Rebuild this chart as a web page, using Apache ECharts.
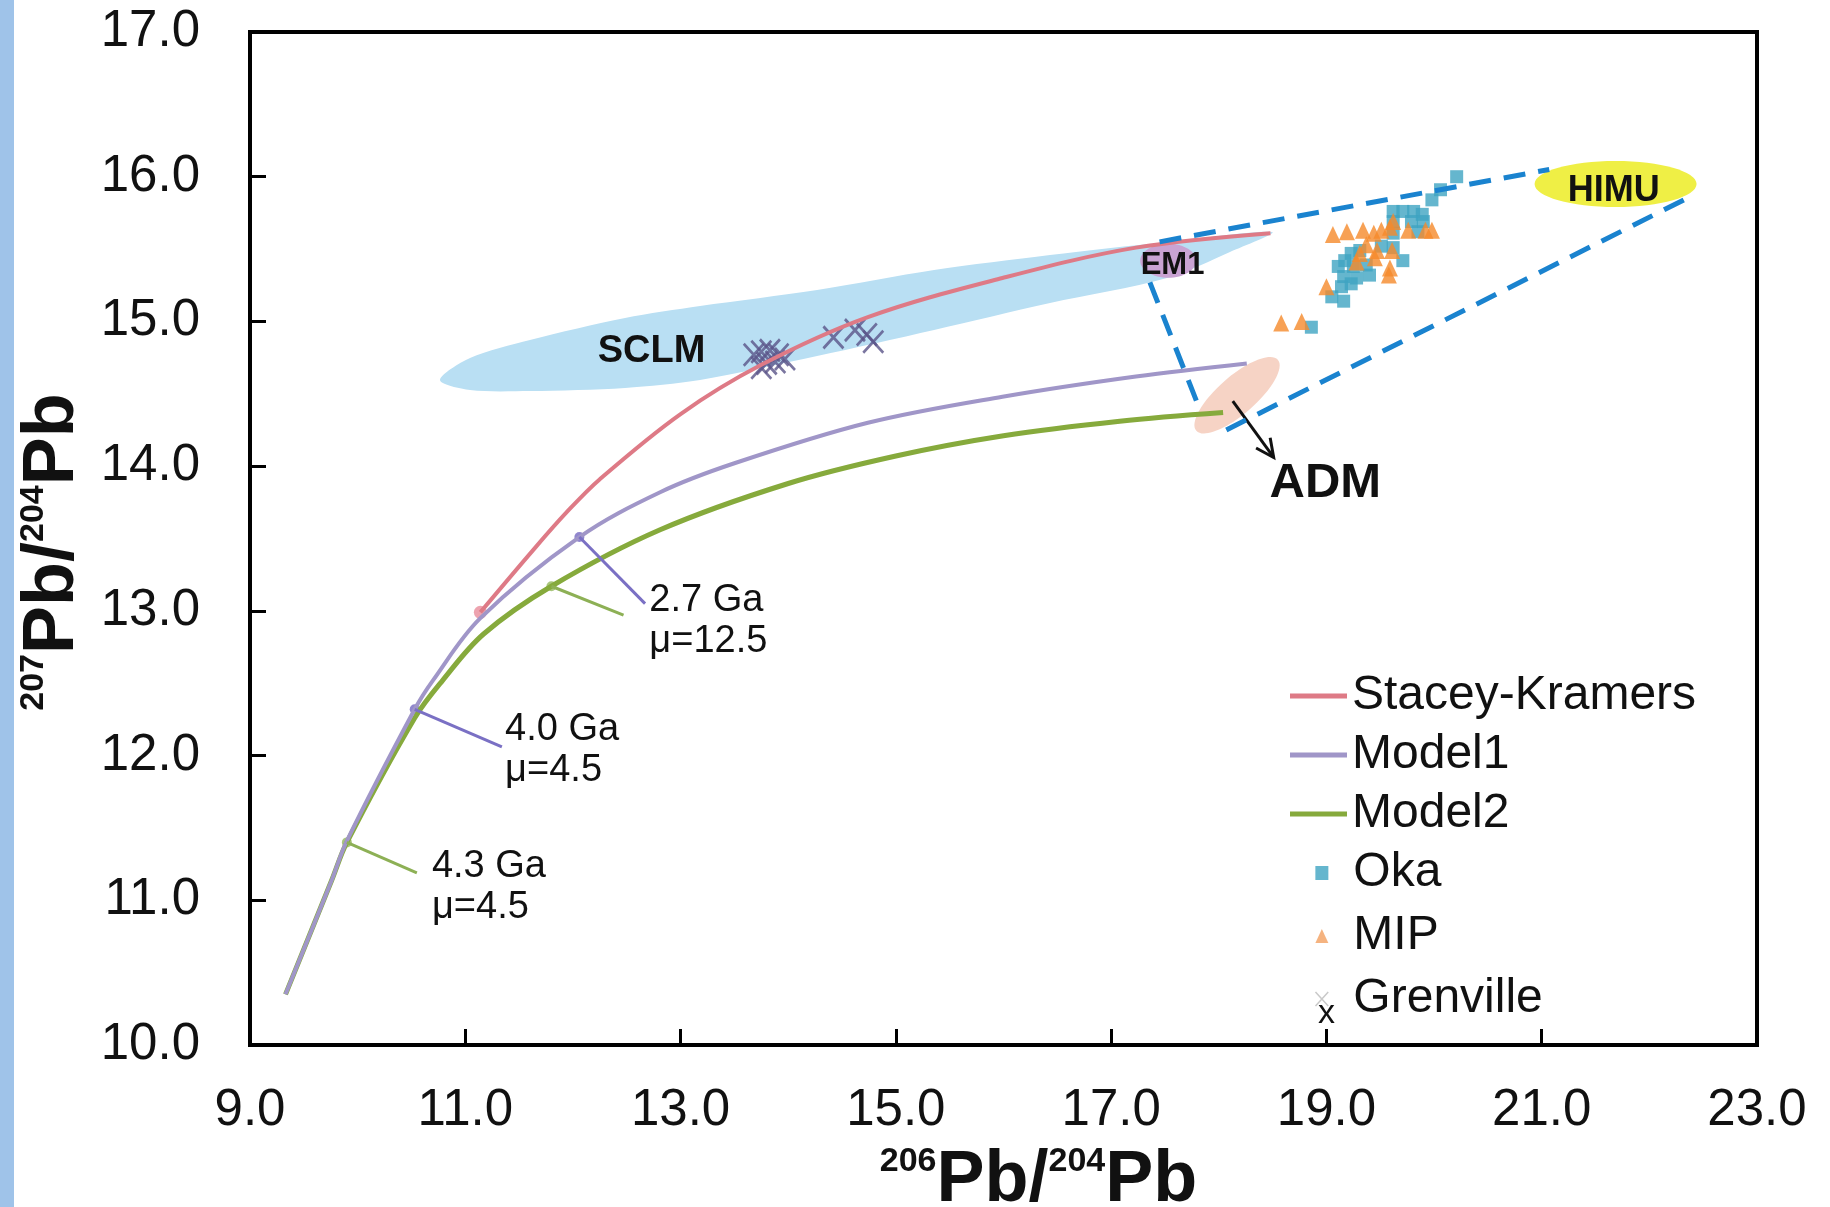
<!DOCTYPE html>
<html>
<head>
<meta charset="utf-8">
<style>
  html, body { margin: 0; padding: 0; background: #fff; }
  #chart { width: 1830px; height: 1207px; }
</style>
<script src="https://cdn.jsdelivr.net/npm/echarts@6/dist/echarts.min.js"></script>
</head>
<body>
<div id="chart"></div>
<script>
// axis ticks
const xTicks = [9, 11, 13, 15, 17, 19, 21, 23]
const yTicks = [10, 11, 12, 13, 14, 15, 16, 17]

// growth curves, [206Pb/204Pb, 207Pb/204Pb]
const staceyKramers = [[11.14, 12.99], [11.63, 13.42], [11.94, 13.68], [12.25, 13.91], [13.0, 14.36], [13.75, 14.70],
  [14.74, 15.03], [15.99, 15.30], [17.23, 15.51], [18.48, 15.61]]
const model1 = [[9.33, 10.35], [9.76, 11.14], [9.90, 11.41], [10.53, 12.32], [10.70, 12.52], [11.14, 12.95],
  [12.06, 13.51], [12.81, 13.82], [13.50, 14.02], [14.74, 14.30], [15.99, 14.48], [17.23, 14.62], [18.26, 14.71]]
const model2 = [[9.33, 10.35], [9.76, 11.14], [9.90, 11.40], [10.53, 12.26], [10.79, 12.52], [11.17, 12.84],
  [11.80, 13.17], [12.81, 13.56], [14.0, 13.88], [15.0, 14.07], [16.0, 14.21], [17.08, 14.31], [18.04, 14.37]]

// samples
const oka = [[20.21, 16.00], [20.06, 15.91], [19.98, 15.84],
  [19.62, 15.76], [19.71, 15.76], [19.81, 15.76], [19.89, 15.74], [19.62, 15.69], [19.79, 15.69], [19.90, 15.69],
  [19.62, 15.61], [19.85, 15.62], [19.23, 15.47], [19.31, 15.49], [19.17, 15.42], [19.11, 15.38], [19.25, 15.38],
  [19.37, 15.39], [19.51, 15.52], [19.62, 15.51], [19.71, 15.42], [19.16, 15.31], [19.28, 15.30], [19.40, 15.32],
  [19.14, 15.24], [19.23, 15.26], [19.05, 15.17], [19.16, 15.14], [18.86, 14.96]]
const mip = [[19.06, 15.60], [19.19, 15.62], [19.34, 15.63], [19.44, 15.61], [19.51, 15.63], [19.59, 15.65],
  [19.62, 15.69], [19.76, 15.63], [19.92, 15.63], [19.98, 15.63], [19.37, 15.53], [19.31, 15.47], [19.47, 15.49],
  [19.61, 15.49], [19.28, 15.41], [19.45, 15.44], [19.59, 15.37], [19.58, 15.32], [19.00, 15.24], [18.58, 14.99],
  [18.77, 15.00]]
const grenville = [[13.68, 14.77], [13.75, 14.79], [13.83, 14.80], [13.91, 14.77], [13.97, 14.74], [13.80, 14.71],
  [13.88, 14.72], [13.75, 14.68], [14.42, 14.89], [14.62, 14.94], [14.73, 14.91], [14.79, 14.86]]

// age marks on the model curves and their leader lines
const skStart = [[11.14, 12.99]]
const model1Ages = [[10.53, 12.32], [12.06, 13.51]]
const model2Ages = [[9.90, 11.40], [11.80, 13.17]]
const model1Leaders = [[[10.53, 12.32], [11.34, 12.06]], [[12.06, 13.51], [12.67, 13.05]]]
const model2Leaders = [[[9.90, 11.40], [10.55, 11.19]], [[11.80, 13.17], [12.47, 12.97]]]
const ageNotes = ['2.7 Ga\nμ=12.5', '4.0 Ga\nμ=4.5', '4.3 Ga\nμ=4.5']
const ageNoteAt = [[12.71, 12.93], [11.37, 12.04], [10.69, 11.09]]

// mantle reservoirs
const sclmOutline = [[10.765, 14.595], [11.044, 14.747], [11.601, 14.871], [12.484, 15.023], [13.181, 15.106],
  [14.268, 15.217], [15.355, 15.355], [16.432, 15.459], [17.519, 15.549], [18.495, 15.618], [18.104, 15.480],
  [17.519, 15.300], [16.432, 15.127], [15.355, 14.941], [14.268, 14.761], [13.181, 14.595], [12.484, 14.540],
  [11.601, 14.519], [11.044, 14.526]]
const himu = [21.686, 15.95]
const em1 = [17.53, 15.42]
const adm = [18.17, 14.49]
const mixingLines = [[[17.45, 15.55], [21.07, 16.05]], [[17.36, 15.27], [17.83, 14.38]], [[18.07, 14.25], [22.32, 15.84]]]
const admArrow = [[18.13, 14.45], [18.51, 14.06]]
const fieldNames = ['SCLM', 'EM1', 'HIMU', 'ADM']
const fieldLabelAt = [[12.73, 14.79], [17.57, 15.39], [21.67, 15.90], [18.99, 13.88]]
const strayMark = [[19.0, 10.22]]

const FONT = '"Liberation Sans", Arial, Helvetica, sans-serif'
const fieldFont = { SCLM: 38, EM1: 31, HIMU: 36, ADM: 49 }

function lineSeries (data, color, width, dash) {
  return {
    type: 'line',
    data: data,
    symbol: 'none',
    silent: true,
    lineStyle: { color: color, width: width, type: dash || 'solid' }
  }
}

function curveSeries (name, data, color, width) {
  return Object.assign(lineSeries(data, color, width), {
    name: name,
    smooth: 0.35,
    itemStyle: { color: color }
  })
}

function ellipseSeries (center, rx, ry, rot, fill, opacity) {
  return {
    type: 'custom',
    silent: true,
    data: [center],
    renderItem: function (params, api) {
      const c = api.coord([api.value(0), api.value(1)])
      return {
        type: 'ellipse',
        x: c[0],
        y: c[1],
        rotation: rot,
        shape: { cx: 0, cy: 0, rx: rx, ry: ry },
        style: { fill: fill, opacity: opacity }
      }
    }
  }
}

const series = []

// SCLM field
series.push({
  type: 'custom',
  silent: true,
  data: [sclmOutline[0]],
  renderItem: function (params, api) {
    return {
      type: 'polygon',
      shape: { points: sclmOutline.map(function (p) { return api.coord(p) }), smooth: 0.3 },
      style: { fill: '#b9dff3' }
    }
  }
})
series.push(ellipseSeries(em1, 28, 17, 0, '#c9a3d3', 1))

// model curves
series.push(curveSeries('Model2', model2, '#86aa3c', 5))
series.push(curveSeries('Model1', model1, '#a096c8', 4))
series.push(curveSeries('Stacey-Kramers', staceyKramers, '#de7a86', 4))

// leader lines
model1Leaders.forEach(function (seg) { series.push(lineSeries(seg, '#7a70c4', 3)) })
model2Leaders.forEach(function (seg) { series.push(lineSeries(seg, '#8db055', 3)) })

// mixing lines
mixingLines.forEach(function (seg) { series.push(lineSeries(seg, '#1a83cf', 5, [22, 13])) })

series.push(ellipseSeries(adm, 54, 19, 41 * Math.PI / 180, '#f5cdbd', 0.88))
series.push(ellipseSeries(himu, 81, 23, 0, '#efef45', 1))

// age markers
series.push({ type: 'scatter', silent: true, data: model1Ages, symbolSize: 10, itemStyle: { color: '#7468c0' } })
series.push({ type: 'scatter', silent: true, data: model2Ages, symbolSize: 10, itemStyle: { color: '#94b85c' } })
series.push({ type: 'scatter', silent: true, data: skStart, symbolSize: 13, itemStyle: { color: '#e98c9b' } })

// samples
series.push({ name: 'Oka', type: 'scatter', data: oka, symbol: 'rect', symbolSize: 13, itemStyle: { color: '#3ea4c2' } })
series.push({ name: 'MIP', type: 'scatter', data: mip, symbol: 'triangle', symbolSize: [16, 17], itemStyle: { color: '#f58a2a' } })
series.push({
  name: 'Grenville',
  type: 'scatter',
  data: grenville,
  symbol: 'path://M0,0L20,22M20,0L0,22',
  symbolSize: [20, 22],
  itemStyle: { color: 'none', borderColor: '#5a5488', borderWidth: 2.8 }
})

// ADM arrow
series.push({
  type: 'custom',
  silent: true,
  data: [admArrow[0]],
  renderItem: function (params, api) {
    const a = api.coord(admArrow[0])
    const b = api.coord(admArrow[1])
    const ang = Math.atan2(b[1] - a[1], b[0] - a[0])
    const h = 20
    const w = 0.45
    return {
      type: 'group',
      children: [
        { type: 'line', shape: { x1: a[0], y1: a[1], x2: b[0], y2: b[1] }, style: { stroke: '#111', lineWidth: 3 } },
        {
          type: 'polyline',
          shape: { points: [
            [b[0] - h * Math.cos(ang - w), b[1] - h * Math.sin(ang - w)],
            [b[0], b[1]],
            [b[0] - h * Math.cos(ang + w), b[1] - h * Math.sin(ang + w)]
          ] },
          style: { stroke: '#111', lineWidth: 3, fill: null }
        }
      ]
    }
  }
})

// reservoir names
series.push({
  type: 'custom',
  silent: true,
  data: fieldLabelAt,
  renderItem: function (params, api) {
    const p = api.coord([api.value(0), api.value(1)])
    const name = fieldNames[params.dataIndex]
    return {
      type: 'text',
      x: p[0],
      y: p[1],
      style: {
        text: name, fill: '#111', fontSize: fieldFont[name], fontWeight: 'bold', fontFamily: FONT,
        align: 'center', verticalAlign: 'middle'
      }
    }
  }
})

// age notes
series.push({
  type: 'custom',
  silent: true,
  data: ageNoteAt,
  renderItem: function (params, api) {
    const p = api.coord([api.value(0), api.value(1)])
    return {
      type: 'text',
      x: p[0],
      y: p[1],
      style: {
        text: ageNotes[params.dataIndex], fill: '#111', fontSize: 38, lineHeight: 41, fontFamily: FONT,
        align: 'left', verticalAlign: 'middle'
      }
    }
  }
})

// stray mark below the legend
series.push({
  type: 'custom',
  silent: true,
  data: strayMark,
  renderItem: function (params, api) {
    const p = api.coord([api.value(0), api.value(1)])
    return { type: 'text', x: p[0], y: p[1], style: { text: 'x', fill: '#111', fontSize: 34, fontFamily: FONT, align: 'center', verticalAlign: 'middle' } }
  }
})

const legendText = { fontSize: 48, lineHeight: 46, color: '#111', fontFamily: FONT }

const option = {
  animation: false,
  backgroundColor: '#fff',
  graphic: [
    { type: 'rect', left: 0, top: 0, shape: { width: 14, height: 1207 }, style: { fill: '#9fc3e9' } }
  ],
  grid: {
    left: 250, right: 73, top: 32, bottom: 162,
    containLabel: false,
    outerBoundsMode: 'none',
    show: true, borderColor: '#000', borderWidth: 4, backgroundColor: 'transparent'
  },
  legend: [
    {
      orient: 'vertical', left: 1285, top: 667, itemWidth: 57, itemHeight: 5, itemGap: 11,
      icon: 'rect', selectedMode: false,
      data: ['Stacey-Kramers', 'Model1', 'Model2'],
      textStyle: legendText
    },
    {
      orient: 'vertical', left: 1308, top: 844, itemWidth: 13, itemHeight: 14, itemGap: 15,
      selectedMode: false,
      data: [
        { name: 'Oka', icon: 'rect' },
        { name: 'MIP', icon: 'triangle', itemStyle: { color: '#f2a060' } },
        { name: 'Grenville', itemStyle: { borderColor: '#bbbbbb', borderWidth: 1.5 } }
      ],
      textStyle: Object.assign({ padding: [0, 0, 0, 20] }, legendText)
    }
  ],
  xAxis: {
    type: 'value',
    min: xTicks[0],
    max: xTicks[xTicks.length - 1],
    interval: xTicks[1] - xTicks[0],
    name: '{s|206}{b|Pb/}{s|204}{b|Pb}',
    nameLocation: 'middle',
    nameGap: 100,
    nameTextStyle: {
      padding: [0, 0, 0, 70],
      rich: {
        b: { fontSize: 72, fontWeight: 'bold', lineHeight: 72, fontFamily: FONT, color: '#111' },
        s: { fontSize: 34, fontWeight: 'bold', lineHeight: 34, verticalAlign: 'top', fontFamily: FONT, color: '#111' }
      }
    },
    axisLine: { show: true, onZero: false, lineStyle: { color: '#000', width: 4 } },
    axisTick: { show: true, inside: true, length: 16, lineStyle: { color: '#000', width: 3 } },
    splitLine: { show: false },
    axisLabel: {
      fontSize: 51, color: '#111', fontFamily: FONT, margin: 40,
      formatter: function (v) { return v.toFixed(1) }
    }
  },
  yAxis: {
    type: 'value',
    min: yTicks[0],
    max: yTicks[yTicks.length - 1],
    interval: yTicks[1] - yTicks[0],
    name: '{s|207}{b|Pb/}{s|204}{b|Pb}',
    nameLocation: 'middle',
    nameGap: 161,
    nameTextStyle: {
      padding: [0, 27, 0, 0],
      rich: {
        b: { fontSize: 72, fontWeight: 'bold', lineHeight: 72, fontFamily: FONT, color: '#111' },
        s: { fontSize: 34, fontWeight: 'bold', lineHeight: 34, verticalAlign: 'top', fontFamily: FONT, color: '#111' }
      }
    },
    axisLine: { show: true, onZero: false, lineStyle: { color: '#000', width: 4 } },
    axisTick: { show: true, inside: true, length: 16, lineStyle: { color: '#000', width: 3 } },
    splitLine: { show: false },
    axisLabel: {
      fontSize: 51, color: '#111', fontFamily: FONT, margin: 50,
      formatter: function (v) { return v.toFixed(1) }
    }
  },
  series: series
}

const chart = echarts.init(document.getElementById('chart'))
chart.setOption(option)
</script>
</body>
</html>
